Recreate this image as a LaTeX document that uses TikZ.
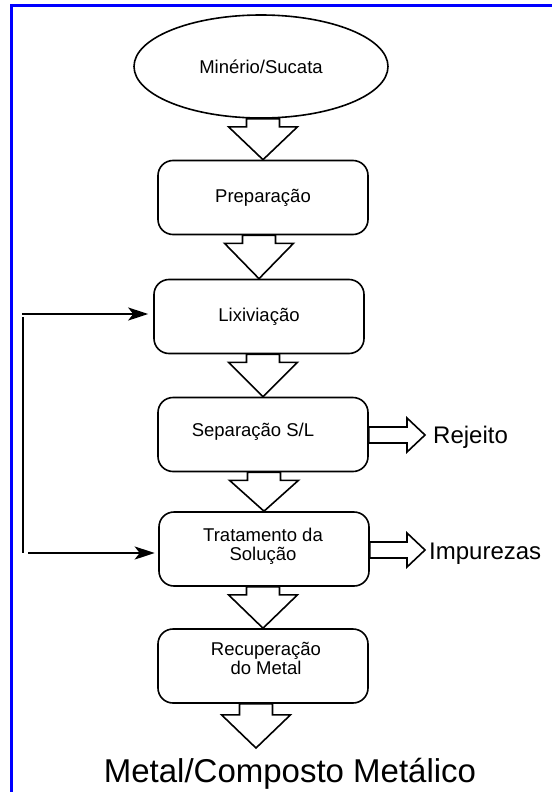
\documentclass[tikz,border=0pt]{standalone}
\usepackage{fontspec}
\setmainfont{Liberation Sans}
\usetikzlibrary{shapes.geometric,arrows.meta,calc}
\newcommand\dblk[3]{%
  \draw[blk] let \p1=(#1), \p2=(#2) in
  (\x2-16.5pt,\y1) -- (\x2+16.5pt,\y1) -- (\x2+16.5pt,\y1-#3) -- (\x2+34.5pt,\y1-#3)
  -- (\x2,\y2) -- (\x2-34.5pt,\y1-#3) -- (\x2-16.5pt,\y1-#3) -- cycle;}
\newcommand\hblk[2]{%
  \draw[blk] let \p1=(#1), \p2=(#2) in
  (\x1,\y2-8pt) -- (\x2-18pt,\y2-8pt) -- (\x2-18pt,\y2-17pt) -- (\x2,\y2)
  -- (\x2-18pt,\y2+17pt) -- (\x2-18pt,\y2+8pt) -- (\x1,\y2+8pt) -- cycle;}
\begin{document}
\begin{tikzpicture}[x=1pt,y=-1pt,
  box/.style={draw,line width=1.6pt,rounded corners=15pt,minimum width=210pt,minimum height=74pt,inner sep=0pt,align=center,font=\fontsize{18.5}{19}\selectfont},
  lbl/.style={inner sep=0pt,align=center,font=\fontsize{18.5}{19}\selectfont},
  blk/.style={draw,fill=white,line width=1.6pt,line join=miter},
  fbv/.style={line width=2.5pt},
  fbline/.style={line width=2.5pt,-{Stealth[length=20pt,width=13pt,inset=5pt]}},
  outtxt/.style={inner sep=0pt,anchor=base west,font=\fontsize{24}{28}\selectfont}]
\useasboundingbox (0,0) rectangle (552,792);
\draw[blue,line width=2.5pt] (11.5,792) -- (11.5,5.5) -- (552,5.5);

\node[ellipse,draw,line width=1.6pt,minimum width=254pt,minimum height=103pt,inner sep=0pt,
      font=\fontsize{18.5}{19}\selectfont] (ore) at (261,66.5) {Minério/Sucata};
\node[box] (prep) at (263,197.5) {Preparação};
\node[box] (lix) at (259,316.5) {Lixiviação};
\node[box] (sep) at (263,434.5) {};
\node[lbl] (septxt) at (253,432) {Separação S/L};
\node[box] (trat) at (264,549) {};
\node[lbl] (trattxt) at (263,546) {Tratamento da\\Solução};
\node[box] (rec) at (263,666) {};
\node[lbl] (rectxt) at (266,658.5) {Recuperação\\do Metal};

\coordinate (endtip) at (256,748);
\dblk{ore.south}{prep.north}{8pt}
\dblk{prep.south}{lix.north}{8pt}
\dblk{lix.south}{sep.north}{8pt}
\dblk{sep.south}{trat.north}{8pt}
\dblk{trat.south}{rec.north}{8pt}
\dblk{rec.south}{endtip}{11pt}

\coordinate (rejtip) at (425,435);
\coordinate (imptip) at (425,550);
\hblk{sep.east}{rejtip}
\hblk{trat.east}{imptip}
\node[outtxt] (rej) at (433,443.5) {Rejeito};
\node[outtxt] (imp) at (429,559.5) {Impurezas};

\coordinate (fbtop) at (21.75,314);
\coordinate (fbv1) at (23,317);
\coordinate (fbv2) at (23,553);
\coordinate (fbbot) at (28,553);
\draw[fbv] (fbv1) -- (fbv2);
\draw[fbline,shorten >=5pt] (fbtop) -- (fbtop -| lix.west);
\draw[fbline,shorten >=3.5pt] (fbbot) -- (fbbot -| trat.west);

\node[inner sep=0pt,anchor=base,font=\fontsize{33}{38}\selectfont] (final) at (290,782) {Metal/Composto Metálico};
\end{tikzpicture}
\end{document}
